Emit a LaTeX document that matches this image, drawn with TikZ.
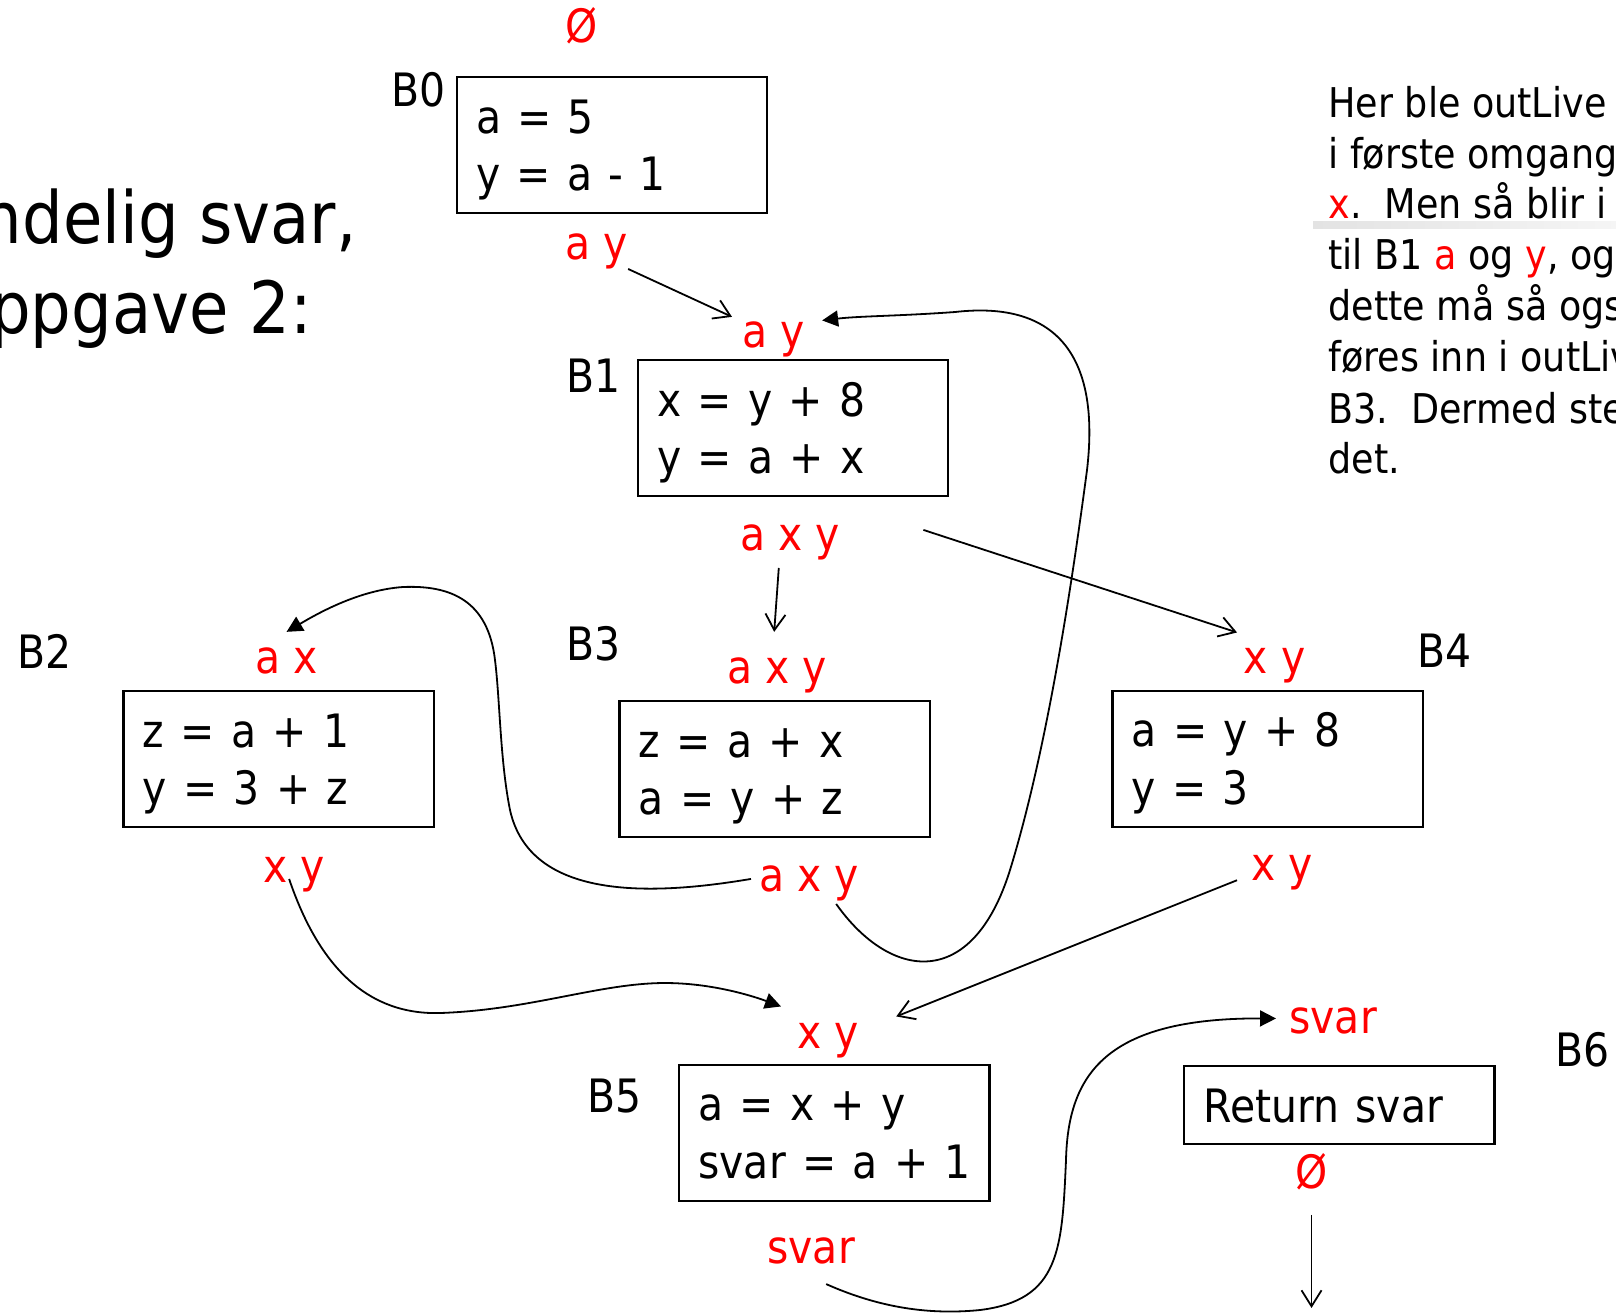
\documentclass[tikz,border=0pt]{standalone}
\usepackage{fontspec}
\setmainfont{DejaVu Sans}[FakeStretch=0.89]
\newfontfamily\codefont{DejaVu Sans}[FakeStretch=0.89, WordSpace=1.25]
\usetikzlibrary{arrows.meta}
\definecolor{livered}{RGB}{255,0,0}

\begin{document}
\begin{tikzpicture}[x=0.5pt,y=-0.5pt,
  blk/.style={draw, line width=1.1pt, minimum width=155.2pt, minimum height=68pt,
              inner sep=0pt, anchor=north west},
  code/.style={anchor=base west, inner sep=0pt, font=\codefont\fontsize{23}{28}\selectfont},
  live/.style={anchor=base west, inner sep=0pt, text=livered, font=\fontsize{23}{28}\selectfont},
  blabel/.style={anchor=base west, inner sep=0pt, font=\fontsize{23}{28}\selectfont},
  note/.style={anchor=base west, inner sep=0pt, font=\fontsize{20.5}{25}\selectfont},
  heading/.style={anchor=base east, inner sep=0pt, font=\fontsize{36}{42}\selectfont},
  flow/.style={line width=0.9pt, -{Straight Barb[length=8pt,width=10pt]}},
  back/.style={line width=0.9pt, -{Triangle[length=8pt,width=8pt]}}
]
% canvas
\useasboundingbox (0,0) rectangle (1616,1313);
\fill[white] (0,0) rectangle (1616,1313);
\clip (0,0) rectangle (1616,1313);

% heading
\node[heading] (head1) at (357,243) {Endelig svar,};
\node[heading] (head2) at (312,333) {oppgave 2:};

% explanatory note
\shade[left color=black!11, right color=black!4] (1313,221) rectangle (1616,228);
\node[note] (n1) at (1328,117) {Her ble outLive};
\node[note] (n2) at (1328,168) {i første omgang};
\node[note] (n3) at (1328,218.5) {{\color{livered}x}.\ \ Men så blir i};
\node[note] (n4) at (1328,269) {til B1 {\color{livered}a} og {\color{livered}y}, og};
\node[note] (n5) at (1328,320) {dette må så også};
\node[note] (n6) at (1328,371.5) {føres inn i outLive};
\node[note] (n7) at (1328,423) {B3.\ \ Dermed stemmer};
\node[note] (n8) at (1328,473.5) {det.};

% basic blocks
\node[blk] (b0) at (455.6,76) {};
\node[blk] (b1) at (636.7,359) {};
\node[blk] (b2) at (122.4,690) {};
\node[blk] (b3) at (618.4,700) {};
\node[blk] (b4) at (1111.3,689.7) {};
\node[blk] (b5) at (678,1064) {};
\node[blk, minimum height=39pt] (b6) at (1183,1065) {};

% block code
\node[code] (b0a) at ([shift={(10pt,-28.5pt)}]b0.north west) {a = 5};
\node[code] (b0b) at ([shift={(10pt,-57.3pt)}]b0.north west) {y = a - 1};
\node[code] (b1a) at ([shift={(10pt,-28.5pt)}]b1.north west) {x = y + 8};
\node[code] (b1b) at ([shift={(10pt,-57.3pt)}]b1.north west) {y = a + x};
\node[code] (b2a) at ([shift={(10pt,-28.5pt)}]b2.north west) {z = a + 1};
\node[code] (b2b) at ([shift={(10pt,-57.3pt)}]b2.north west) {y = 3 + z};
\node[code] (b3a) at ([shift={(10pt,-28.5pt)}]b3.north west) {z = a + x};
\node[code] (b3b) at ([shift={(10pt,-57.3pt)}]b3.north west) {a = y + z};
\node[code] (b4a) at ([shift={(10pt,-28.5pt)}]b4.north west) {a = y + 8};
\node[code] (b4b) at ([shift={(10pt,-57.3pt)}]b4.north west) {y = 3};
\node[code] (b5a) at ([shift={(10pt,-28pt)}]b5.north west) {a = x + y};
\node[code] (b5b) at ([shift={(10pt,-57pt)}]b5.north west) {svar = a + 1};
\node[code] (b6a) at ([shift={(10pt,-28.8pt)}]b6.north west) {Return svar};

% block names
\node[blabel] (lb0) at (391,106) {B0};
\node[blabel] (lb1) at (566,392) {B1};
\node[blabel] (lb2) at (17,668) {B2};
\node[blabel] (lb3) at (566,660) {B3};
\node[blabel] (lb4) at (1417,667) {B4};
\node[blabel] (lb5) at (587,1112) {B5};
\node[blabel] (lb6) at (1555,1066) {B6};

% live variable sets
\node[live] (null0) at (565,42) {Ø};
\node[live] (ay0) at (565,259) {a y};
\node[live] (ay1) at (742,347) {a y};
\node[live] (axy1o) at (740,550) {a x y};
\node[live] (ax2) at (255,673) {a x};
\node[live] (axy3i) at (727,683) {a x y};
\node[live] (xy4i) at (1243.5,673) {x y};
\node[live] (xy2o) at (263,882) {x y};
\node[live] (axy3o) at (759,891) {a x y};
\node[live] (xy4o) at (1251,880) {x y};
\node[live] (xy5i) at (797,1048) {x y};
\node[live] (svar5) at (767,1263) {svar};
\node[live] (svar6) at (1289,1033) {svar};
\node[live] (null6) at (1295,1188) {Ø};
\coordinate (exit) at ([yshift=-59pt]null6.south);

% control flow
\draw[flow] (ay0.south east) -- ([shift={(-5pt,2pt)}]ay1.north west);
\draw[flow] ([shift={(-5.7pt,-4pt)}]axy1o.south) -- ([shift={(-1.5pt,12.5pt)}]axy3i.north);
\draw[flow] ([shift={(41.5pt,6pt)}]axy1o.east) -- ([shift={(-3.25pt,7.5pt)}]xy4i.north west);
\draw[flow] ([shift={(-7pt,-4pt)}]xy4o.west) -- ([shift={(18.5pt,3pt)}]xy5i.north east);
\draw[flow] ([yshift=-12.5pt]null6.south) -- (exit);

% propagated sets
\draw[back] ([shift={(-4pt,2pt)}]axy3o.west)
  .. controls (650,896) and (530,900) .. (510,810)
  .. controls (500,760) and (500,700) .. (495,660)
  .. controls (488,600) and (450,585) .. (403,587)
  .. controls (360,590) and (320,612) .. ([yshift=7.5pt]ax2.north);
\draw[back] ([shift={(13.5pt,-1.5pt)}]axy3o.south)
  .. controls (890,980) and (972,992) .. (1010,870)
  .. controls (1050,740) and (1075,560) .. (1087,470)
  .. controls (1100,360) and (1060,300) .. (955,312)
  .. controls (900,316) and (860,316) .. ([shift={(8.5pt,9.25pt)}]ay1.east);
\draw[back] ([shift={(-2.5pt,6.5pt)}]xy2o.south)
  .. controls (320,970) and (370,1015) .. (440,1013)
  .. controls (530,1010) and (600,983) .. (665,983)
  .. controls (710,983) and (750,995) .. ([shift={(-8pt,8pt)}]xy5i.north west);
\draw[back] ([shift={(7.5pt,-10pt)}]svar5.south)
  .. controls (880,1308) and (930,1315) .. (980,1310)
  .. controls (1060,1300) and (1062,1250) .. (1066,1160)
  .. controls (1068,1075) and (1105,1018) .. ([shift={(-6.5pt,1pt)}]svar6.west);
\end{tikzpicture}
\end{document}
